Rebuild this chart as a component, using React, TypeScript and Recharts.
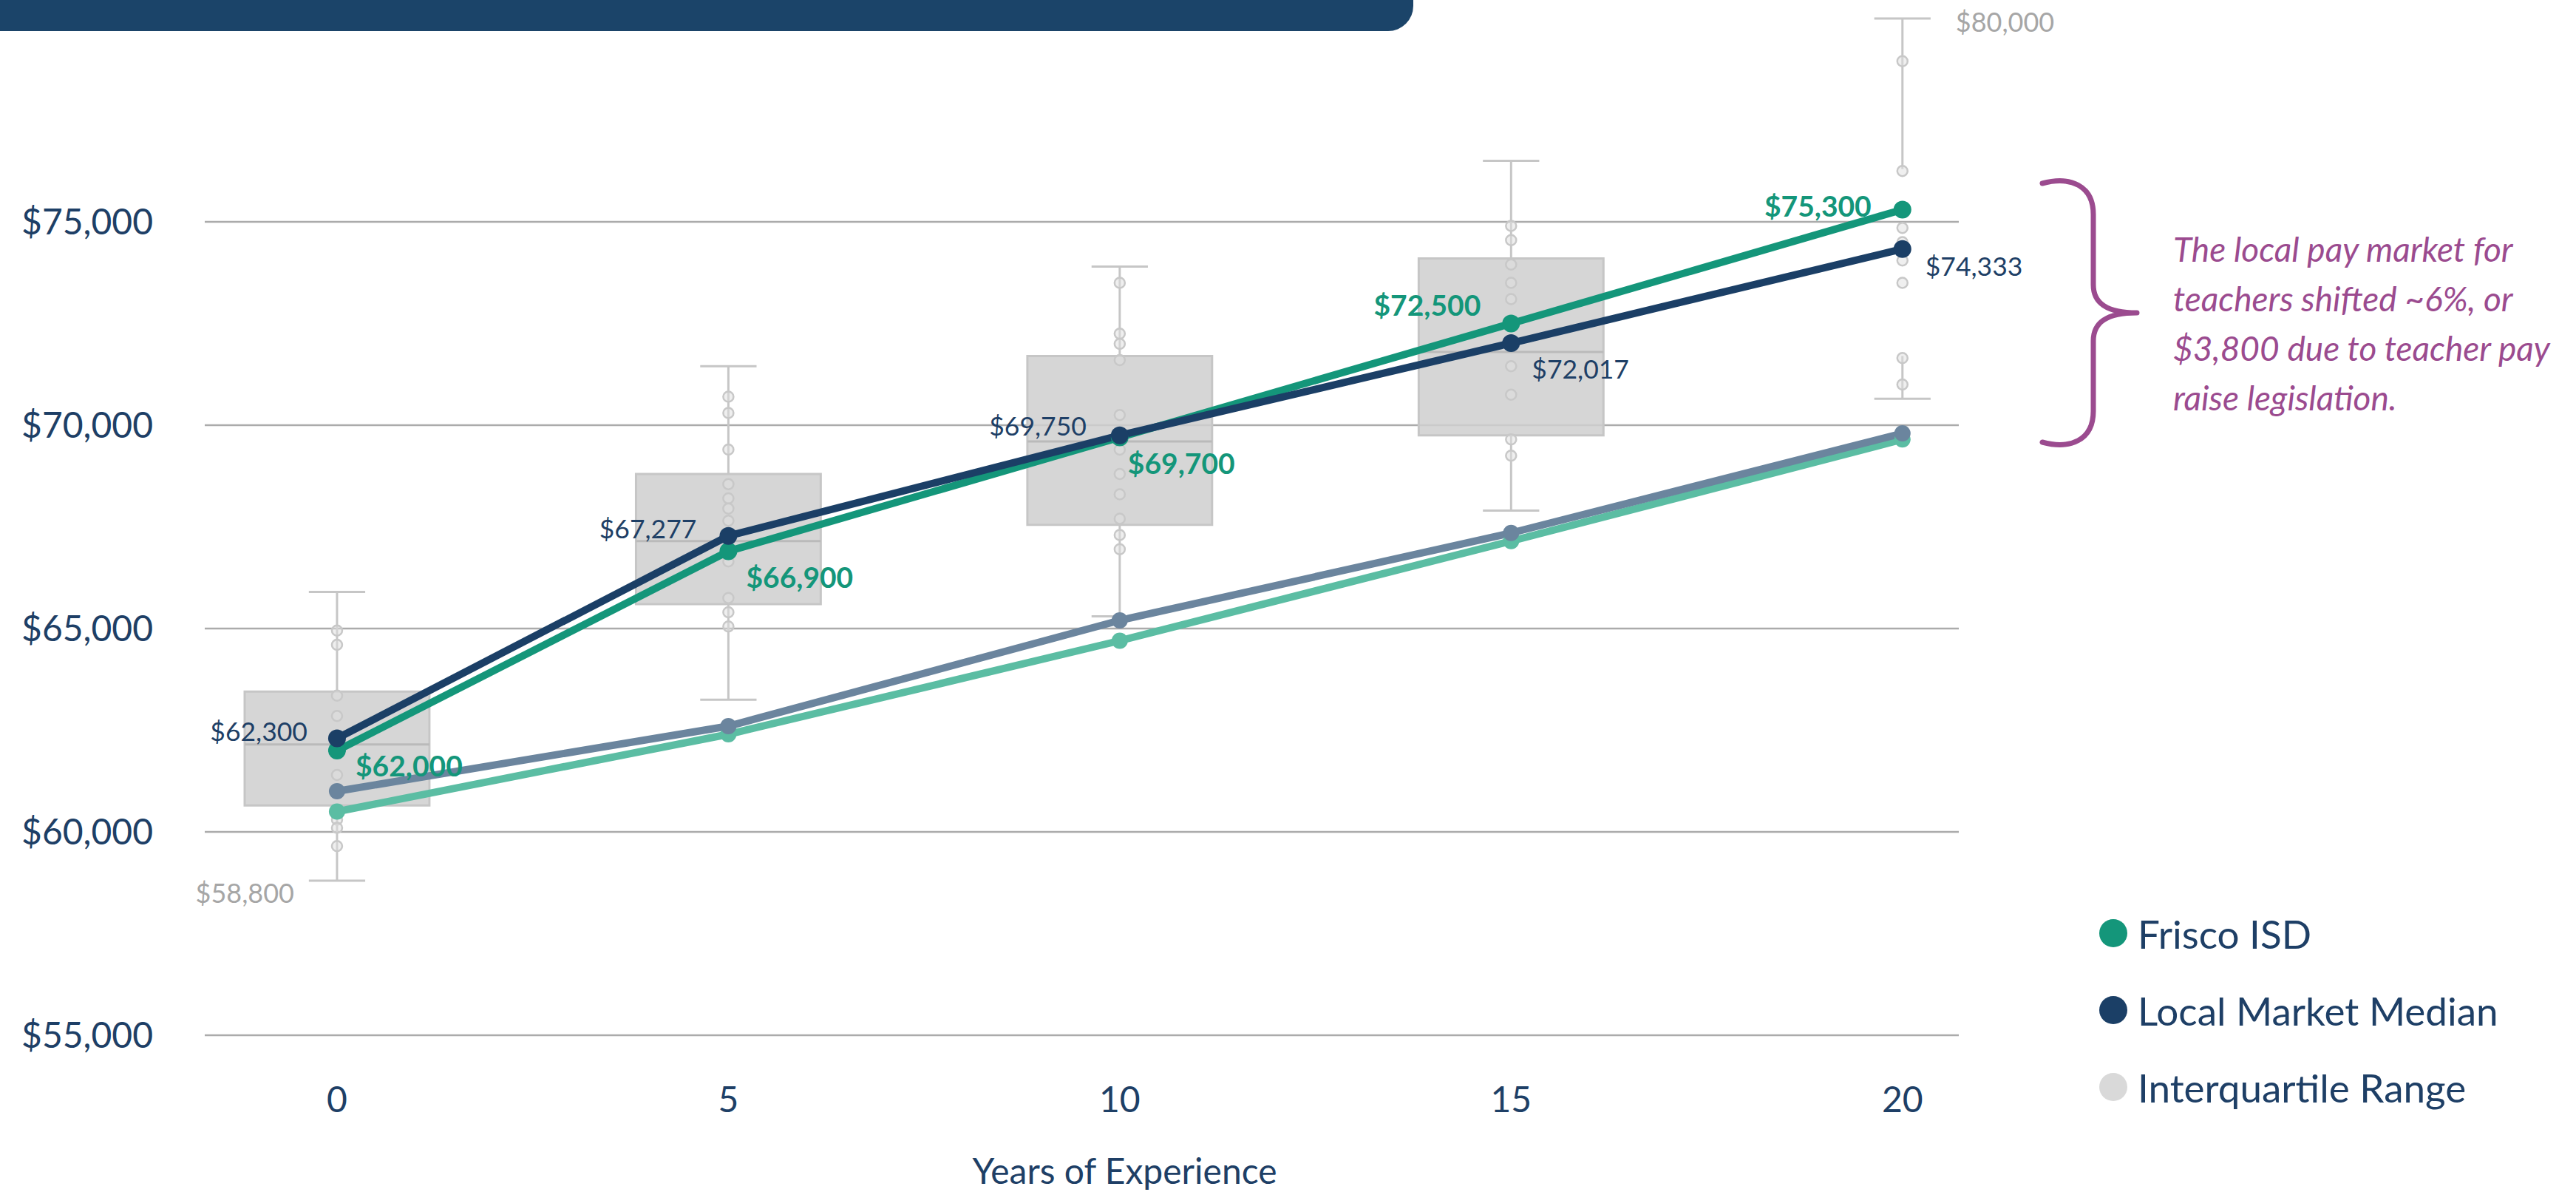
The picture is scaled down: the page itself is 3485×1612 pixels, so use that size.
import {
  ComposedChart,
  Line,
  XAxis,
  YAxis,
  CartesianGrid,
  ReferenceArea,
  ReferenceLine,
  ReferenceDot,
  LabelList,
} from 'recharts';

const FONT = "'Source Sans Pro', Lato, sans-serif";
const NAVY_TEXT = '#1E3F66';
const GREEN = '#14967A';
const NAVY = '#1B3F66';
const GRAY_BLUE = '#6B859E';
const LIGHT_TEAL = '#5BBDA3';
const PURPLE = '#9B4B8F';

// values
const years = [0, 5, 10, 15, 20];
const friscoPay = [62000, 66900, 69700, 72500, 75300];
const marketMedian = [62300, 67277, 69750, 72017, 74333];
const priorMarketMedian = [61000, 62600, 65200, 67350, 69800];
const priorFriscoPay = [60500, 62400, 64700, 67150, 69650];

const boxQ1 = [60650, 65600, 67550, 69750, 71700];
const boxMedian = [62150, 67150, 69600, 71800, 74150];
const boxQ3 = [63450, 68800, 71700, 74100, 76300];
const whiskerLow = [58800, 63250, 65300, 67900, 70650];
const whiskerHigh = [65900, 71450, 73900, 76500, 80000];

const districts0 = [64950, 64600, 63350, 62850, 61400, 60300, 60100, 59650];
const districts5 = [70700, 70300, 69400, 68550, 68200, 67950, 67650, 66650, 65750, 65400, 65050];
const districts10 = [73500, 72250, 72000, 71600, 70250, 69400, 68800, 68300, 67700, 67300, 66950];
const districts15 = [74900, 74550, 73950, 73500, 73100, 71450, 70750, 69650, 69250];
const districts20 = [78950, 76250, 74850, 74500, 74050, 73500, 71650, 71000];

const yTicks = [55000, 60000, 65000, 70000, 75000];

const legendItems = [
  { name: 'Frisco ISD', color: GREEN },
  { name: 'Local Market Median', color: NAVY },
  { name: 'Interquartile Range', color: '#D9D9D9' },
];

const noteLines = [
  'The local pay market for',
  'teachers shifted ~6%, or',
  '$3,800 due to teacher pay',
  'raise legislation.',
];

const chartData = years.map((yr, i) => ({
  years: yr,
  frisco: friscoPay[i],
  market: marketMedian[i],
  priorMarket: priorMarketMedian[i],
  priorFrisco: priorFriscoPay[i],
}));

const districtDots = [districts0, districts5, districts10, districts15, districts20].flatMap(
  (vals, i) => vals.map((v) => ({ years: years[i], value: v }))
);

// label placement in pixels relative to each point
const friscoPlace = [
  { dx: 25, dy: 20, anchor: 'start' },
  { dx: 24, dy: 34, anchor: 'start' },
  { dx: 11, dy: 34, anchor: 'start' },
  { dx: -41, dy: -26, anchor: 'end' },
  { dx: -42, dy: -6, anchor: 'end' },
];
const marketPlace = [
  { dx: -40, dy: -10, anchor: 'end' },
  { dx: -43, dy: -10, anchor: 'end' },
  { dx: -45, dy: -13, anchor: 'end' },
  { dx: 28, dy: 34, anchor: 'start' },
  { dx: 31, dy: 23, anchor: 'start' },
];

const BOX_HALF = 1.18;
const CAP_HALF = 0.36;

const fmt = (v: number) => '$' + Number(v).toLocaleString('en-US');

const makeLabel = (place: any[], color: string, weight: number, size: number) => (props: any) => {
  const { value, index } = props;
  const px = typeof props.x === 'number' ? props.x : props.viewBox?.x;
  const py = typeof props.y === 'number' ? props.y : props.viewBox?.y;
  const p = place[index];
  if (!p || px == null || py == null) return null;
  return (
    <text
      x={px + p.dx}
      y={py + p.dy}
      textAnchor={p.anchor}
      dominantBaseline="central"
      fill={color}
      fontSize={size}
      fontWeight={weight}
      fontFamily={FONT}
    >
      {fmt(value)}
    </text>
  );
};

const XTitle = (props: any) => {
  const vb = props.viewBox || { x: 277, y: 1400, width: 2373, height: 212 };
  return (
    <text
      x={vb.x + vb.width / 2 + 58}
      y={vb.y + vb.height - 30}
      textAnchor="middle"
      dominantBaseline="central"
      fill={NAVY_TEXT}
      fontSize={48}
      fontFamily={FONT}
    >
      Years of Experience
    </text>
  );
};

export default function App() {
  const gray = '#C6C6C6';
  return (
    <div
      style={{
        position: 'absolute',
        left: 0,
        top: 0,
        width: 3485,
        height: 1612,
        background: '#fff',
        overflow: 'hidden',
      }}
    >
      <div
        style={{
          position: 'absolute',
          left: 0,
          top: 0,
          width: 1912,
          height: 42,
          background: '#1B4469',
          borderBottomRightRadius: 34,
        }}
      />
      <ComposedChart
        width={3485}
        height={1612}
        data={chartData}
        margin={{ top: 3, right: 835, bottom: 0, left: 0 }}
      >
        <CartesianGrid
          vertical={false}
          horizontalValues={yTicks}
          stroke="#ABABAB"
          strokeWidth={2.5}
        />
        <XAxis
          dataKey="years"
          type="number"
          domain={[-1.69, 20.72]}
          ticks={years}
          allowDataOverflow
          axisLine={false}
          tickLine={false}
          tickSize={0}
          tickMargin={70}
          height={212}
          tick={{ fill: NAVY_TEXT, fontSize: 48, fontFamily: FONT }}
          label={<XTitle />}
        />
        <YAxis
          type="number"
          domain={[55000, 80400]}
          ticks={yTicks}
          allowDataOverflow
          axisLine={false}
          tickLine={false}
          tickSize={0}
          tickMargin={70}
          width={277}
          tickFormatter={fmt}
          tick={{ fill: NAVY_TEXT, fontSize: 48, fontFamily: FONT }}
        />

        {years.map((yr, i) => (
          <ReferenceArea
            key={`box-${yr}`}
            x1={yr - BOX_HALF}
            x2={yr + BOX_HALF}
            y1={boxQ1[i]}
            y2={boxQ3[i]}
            fill="#CFCFCF"
            fillOpacity={0.85}
            stroke={gray}
            strokeWidth={3}
          />
        ))}
        {years.map((yr, i) => (
          <ReferenceLine
            key={`med-${yr}`}
            segment={[
              { x: yr - BOX_HALF, y: boxMedian[i] },
              { x: yr + BOX_HALF, y: boxMedian[i] },
            ]}
            stroke="#BABABA"
            strokeWidth={3}
          />
        ))}
        {years.map((yr, i) => (
          <ReferenceLine
            key={`wlo-${yr}`}
            segment={[
              { x: yr, y: whiskerLow[i] },
              { x: yr, y: boxQ1[i] },
            ]}
            stroke={gray}
            strokeWidth={3}
          />
        ))}
        {years.map((yr, i) => (
          <ReferenceLine
            key={`whi-${yr}`}
            segment={[
              { x: yr, y: boxQ3[i] },
              { x: yr, y: whiskerHigh[i] },
            ]}
            stroke={gray}
            strokeWidth={3}
          />
        ))}
        {years.map((yr, i) => (
          <ReferenceLine
            key={`clo-${yr}`}
            segment={[
              { x: yr - CAP_HALF, y: whiskerLow[i] },
              { x: yr + CAP_HALF, y: whiskerLow[i] },
            ]}
            stroke={gray}
            strokeWidth={3}
          />
        ))}
        {years.map((yr, i) => (
          <ReferenceLine
            key={`chi-${yr}`}
            segment={[
              { x: yr - CAP_HALF, y: whiskerHigh[i] },
              { x: yr + CAP_HALF, y: whiskerHigh[i] },
            ]}
            stroke={gray}
            strokeWidth={3}
          />
        ))}
        {districtDots.map((d, i) => (
          <ReferenceDot
            key={`dot-${i}`}
            x={d.years}
            y={d.value}
            r={7}
            fill="#E0E0E0"
            fillOpacity={0.5}
            stroke="#C8C8C8"
            strokeWidth={2.5}
          />
        ))}
        <ReferenceDot
          x={years[0]}
          y={whiskerLow[0]}
          r={1}
          shape={(p: any) => (
            <text
              x={p.cx - 58}
              y={p.cy + 16}
              textAnchor="end"
              dominantBaseline="central"
              fill="#A6A6A6"
              fontSize={36}
              fontFamily={FONT}
            >
              {fmt(whiskerLow[0])}
            </text>
          )}
        />
        <ReferenceDot
          x={years[4]}
          y={whiskerHigh[4]}
          r={1}
          shape={(p: any) => (
            <text
              x={p.cx + 72}
              y={p.cy + 4}
              textAnchor="start"
              dominantBaseline="central"
              fill="#A6A6A6"
              fontSize={36}
              fontFamily={FONT}
            >
              {fmt(whiskerHigh[4])}
            </text>
          )}
        />

        <Line
          dataKey="priorFrisco"
          stroke={LIGHT_TEAL}
          strokeWidth={10}
          dot={{ r: 11, fill: LIGHT_TEAL, stroke: LIGHT_TEAL, strokeWidth: 0 }}
          activeDot={false}
          isAnimationActive={false}
        />
        <Line
          dataKey="priorMarket"
          stroke={GRAY_BLUE}
          strokeWidth={10}
          dot={{ r: 11, fill: GRAY_BLUE, stroke: GRAY_BLUE, strokeWidth: 0 }}
          activeDot={false}
          isAnimationActive={false}
        />
        <Line
          dataKey="frisco"
          stroke={GREEN}
          strokeWidth={10}
          dot={{ r: 12, fill: GREEN, stroke: GREEN, strokeWidth: 0 }}
          activeDot={false}
          isAnimationActive={false}
        >
          <LabelList dataKey="frisco" content={makeLabel(friscoPlace, GREEN, 700, 39)} />
        </Line>
        <Line
          dataKey="market"
          stroke={NAVY}
          strokeWidth={10}
          dot={{ r: 12, fill: NAVY, stroke: NAVY, strokeWidth: 0 }}
          activeDot={false}
          isAnimationActive={false}
        >
          <LabelList dataKey="market" content={makeLabel(marketPlace, NAVY_TEXT, 400, 35.5)} />
        </Line>
      </ComposedChart>

      <svg
        width={3485}
        height={1612}
        style={{ position: 'absolute', left: 0, top: 0, pointerEvents: 'none' }}
      >
        <path
          d="M 2763 248 C 2800 238, 2832 250, 2832 290 L 2832 385 C 2832 410, 2850 423, 2891 423 C 2850 423, 2832 436, 2832 461 L 2832 556 C 2832 596, 2800 608, 2763 598"
          fill="none"
          stroke={PURPLE}
          strokeWidth={7}
          strokeLinecap="round"
          strokeLinejoin="round"
        />
        {noteLines.map((line, i) => (
          <text
            key={line}
            x={2940}
            y={336 + i * 67}
            dominantBaseline="central"
            fill={PURPLE}
            fontSize={46}
            fontStyle="italic"
            fontFamily={FONT}
          >
            {line}
          </text>
        ))}
        {legendItems.map((item, i) => (
          <g key={item.name}>
            <circle cx={2859} cy={1262 + i * 104} r={19} fill={item.color} />
            <text
              x={2892}
              y={1262 + i * 104}
              dominantBaseline="central"
              fill={NAVY_TEXT}
              fontSize={53}
              fontFamily={FONT}
            >
              {item.name}
            </text>
          </g>
        ))}
      </svg>
    </div>
  );
}
